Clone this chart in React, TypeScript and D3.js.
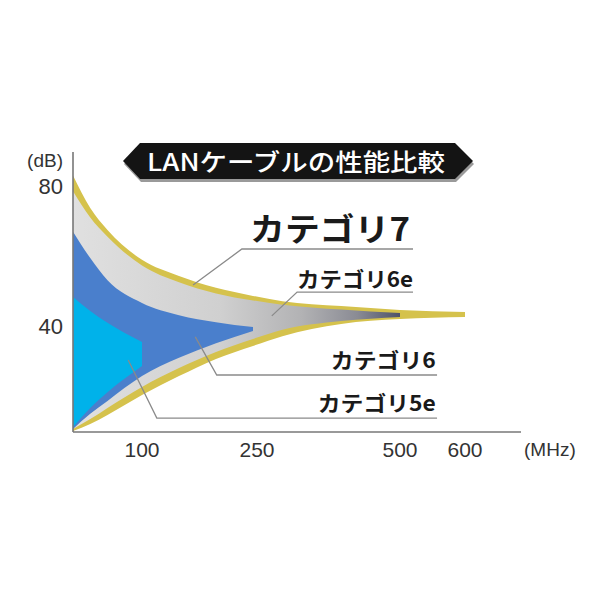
import React from "react";
import * as d3 from "d3";

// ---- data ----
const FREQ_TICKS = [100, 250, 500, 600];
const DB_TICKS = [80, 40];

const CAT7_FREQ = [0, 25, 50, 100, 150, 200, 250, 300, 400, 500, 600];
const CAT7_UPPER = [83, 73.7, 67.4, 58.9, 54.3, 50.9, 48.6, 47.1, 45.7, 44.6, 44];
const CAT7_LOWER = [10, 12, 14.6, 20.3, 25.7, 30.6, 34.3, 37.1, 40.6, 42, 42.6];

const CAT6E_FREQ = [0, 25, 50, 100, 150, 200, 250, 300, 400, 500];
const CAT6E_UPPER = [78.5, 71, 65.5, 57.3, 52.5, 49.3, 47.3, 46.1, 44.7, 43.7];
const CAT6E_LOWER = [10.6, 13.4, 16.6, 22.6, 28, 32.6, 36.3, 38.9, 41.4, 42.6];

const CAT6_FREQ = [0, 25, 50, 100, 150, 200, 250];
const CAT6_UPPER = [66.9, 59.4, 53.1, 46.6, 43.1, 41.1, 39.7];
const CAT6_LOWER = [10.6, 14.9, 18.6, 25.7, 30.9, 35.1, 38.6];

const CAT5E_FREQ = [0, 25, 50, 100];
const CAT5E_UPPER = [48.3, 44.3, 40.9, 35.4];
const CAT5E_LOWER = [11.1, 16.6, 21.1, 28.6];

const TITLE = "LANケーブルの性能比較";
const LABELS = ["カテゴリ7", "カテゴリ6e", "カテゴリ6", "カテゴリ5e"];

// annotation anchors in data units [MHz, dB]
const LEADERS: [number, number][][] = [
  [[169, 51.7], [235, 62], [520, 62]],
  [[282, 42.9], [325, 49.7], [520, 49.7]],
  [[172, 36.9], [201, 26], [557, 26]],
  [[80, 30.3], [120, 13.7], [557, 13.7]],
];
const LABEL_POS: [number, number][] = [[246, 64.3], [325, 51.1], [555, 28], [555, 15.7]];

// ---- layout ----
const W = 600;
const H = 600;
const X0 = 73;
const x = d3.scaleLinear().domain([0, 100, 250, 500, 600]).range([X0, 142, 253, 400, 465]);
const y = d3.scaleLinear().domain([0, 80]).range([466, 186]);
const AXIS_Y = 432;
const AXIS_TOP = 152;
const AXIS_RIGHT = 521;

type Pt = { f: number; hi: number; lo: number };
const zip = (f: number[], hi: number[], lo: number[]): Pt[] => f.map((v, i) => ({ f: v, hi: hi[i], lo: lo[i] }));

const area = d3
  .area<Pt>()
  .x((d) => x(d.f))
  .y0((d) => y(d.lo))
  .y1((d) => y(d.hi))
  .curve(d3.curveMonotoneX);

const numFont = "'Liberation Sans', Arial, Helvetica, sans-serif";
const jpFont = "'Noto Sans CJK JP', 'Noto Sans', sans-serif";

export default function App() {
  const cat7 = zip(CAT7_FREQ, CAT7_UPPER, CAT7_LOWER);
  const cat6e = zip(CAT6E_FREQ, CAT6E_UPPER, CAT6E_LOWER);
  const cat6 = zip(CAT6_FREQ, CAT6_UPPER, CAT6_LOWER);
  const cat5e = zip(CAT5E_FREQ, CAT5E_UPPER, CAT5E_LOWER);
  const line = d3.line<[number, number]>().x((d) => x(d[0])).y((d) => y(d[1]));

  const labelSizes = [32, 21, 21, 21];
  const labelLens = [160, 116, 105, 118];
  const labelAnchor = ["start", "start", "end", "end"];

  return (
    <svg width={W} height={H} style={{ position: "absolute", left: 0, top: 0, background: "#fff" }}>
      <defs>
        <linearGradient id="grayGrad" gradientUnits="userSpaceOnUse" x1={x(0)} x2={x(500)} y1={0} y2={0}>
          <stop offset="0" stopColor="#e0e0e0" />
          <stop offset="0.45" stopColor="#d0d0d0" />
          <stop offset="0.7" stopColor="#b2b2b4" />
          <stop offset="0.87" stopColor="#8a8b94" />
          <stop offset="1" stopColor="#4e5268" />
        </linearGradient>
      </defs>
      <rect width={W} height={H} fill="#fff" />

      {/* title banner */}
      <polygon points="124,164 141,146 456,146 474,164 456,182 141,182" fill="#9a9a9a" />
      <polygon points="123,161 140,143 455,143 473,161 455,179 140,179" fill="#141414" />
      <text x={147} y={171} fill="#fff" fontFamily={jpFont} fontSize={24} fontWeight={500}
        textLength={298} lengthAdjust="spacingAndGlyphs">{TITLE}</text>

      {/* areas */}
      <path d={area(cat7) || ""} fill="#d5c24c" />
      <path d={area(cat6e) || ""} fill="url(#grayGrad)" />
      <path d={area(cat6) || ""} fill="#4a7fcc" />
      <path d={area(cat5e) || ""} fill="#00b2ea" />

      {/* leaders */}
      {LEADERS.map((pts, i) => (
        <path key={i} d={line(pts) || ""} fill="none" stroke="#8a8a8a" strokeWidth={1.3} />
      ))}

      {/* labels */}
      {LABELS.map((t, i) => (
        <text key={t} x={x(LABEL_POS[i][0])} y={y(LABEL_POS[i][1])} textAnchor={labelAnchor[i]}
          fontFamily={jpFont} fontWeight={700} fontSize={labelSizes[i]} fill="#1a1a1a"
          textLength={labelLens[i]} lengthAdjust="spacingAndGlyphs">{t}</text>
      ))}

      {/* axes */}
      <line x1={X0} x2={X0} y1={AXIS_TOP} y2={AXIS_Y} stroke="#777" strokeWidth={1.6} />
      <line x1={X0} x2={AXIS_RIGHT} y1={AXIS_Y} y2={AXIS_Y} stroke="#777" strokeWidth={1.6} />

      <text x={63} y={167} textAnchor="end" fontFamily={numFont} fontSize={19} fill="#333">(dB)</text>
      {DB_TICKS.map((v) => (
        <text key={v} x={63} y={y(v)} dy="0.36em" textAnchor="end" fontFamily={numFont} fontSize={22} fill="#333">{v}</text>
      ))}
      {FREQ_TICKS.map((v) => (
        <text key={v} x={x(v) + (v === 250 ? 4 : 0)} y={457} textAnchor="middle" fontFamily={numFont} fontSize={21} fill="#333">{v}</text>
      ))}
      <text x={524} y={456} fontFamily={numFont} fontSize={19} fill="#333">(MHz)</text>
    </svg>
  );
}
